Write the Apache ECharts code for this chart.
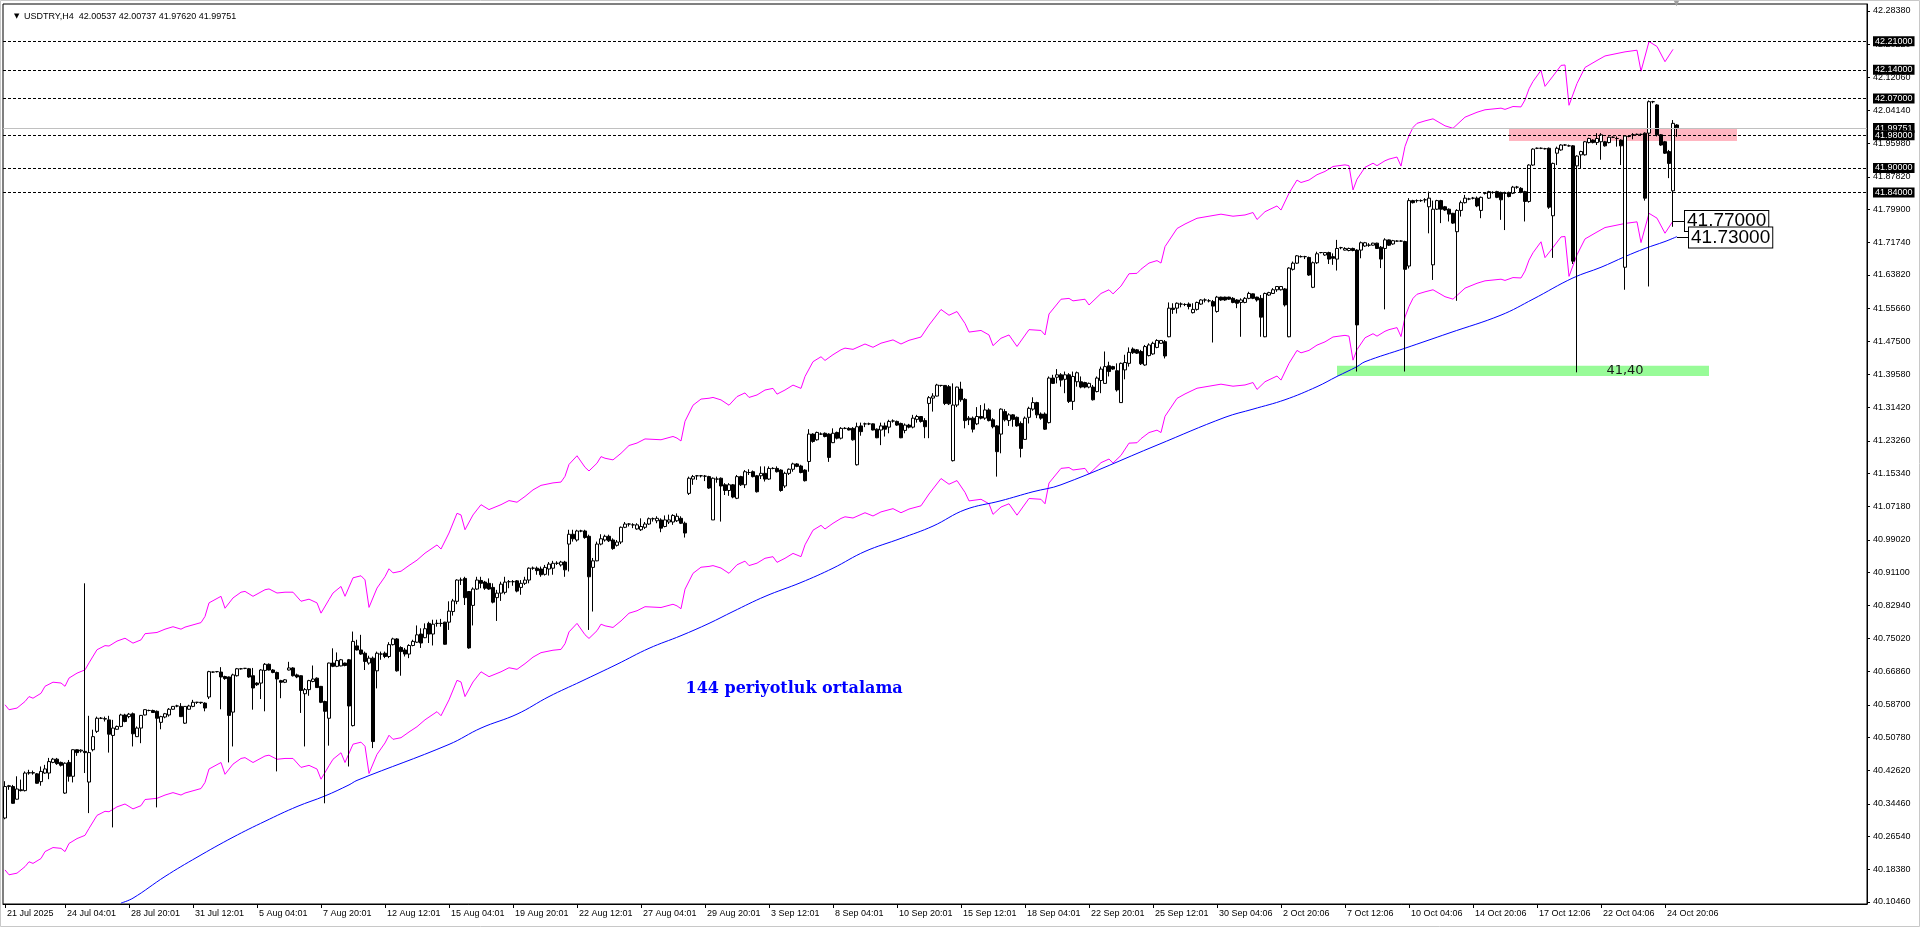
<!DOCTYPE html>
<html><head><meta charset="utf-8">
<script src="https://cdn.jsdelivr.net/npm/echarts@6/dist/echarts.min.js"></script>
<style>html,body{margin:0;padding:0;background:#fff}#c{width:1920px;height:927px}</style>
</head><body><div id="c"></div>
<script>
// ---------------- DATA ----------------
const symbolTitle = 'USDTRY,H4  42.00537 42.00737 41.97620 41.99751';
const xTickLabels = ['21 Jul 2025','24 Jul 04:01','28 Jul 20:01','31 Jul 12:01','5 Aug 04:01','7 Aug 20:01','12 Aug 12:01','15 Aug 04:01','19 Aug 20:01','22 Aug 12:01','27 Aug 04:01','29 Aug 20:01','3 Sep 12:01','8 Sep 04:01','10 Sep 20:01','15 Sep 12:01','18 Sep 04:01','22 Sep 20:01','25 Sep 12:01','30 Sep 04:06','2 Oct 20:06','7 Oct 12:06','10 Oct 04:06','14 Oct 20:06','17 Oct 12:06','22 Oct 04:06','24 Oct 20:06'];
const xTickBars = [0,15,31,47,63,79,95,111,127,143,159,175,191,207,223,239,255,271,287,303,319,335,351,367,383,399,415];
const yTickLabels = ['42.28380','42.20220','42.12060','42.04140','41.95980','41.87820','41.79900','41.71740','41.63820','41.55660','41.47500','41.39580','41.31420','41.23260','41.15340','41.07180','40.99020','40.91100','40.82940','40.75020','40.66860','40.58700','40.50780','40.42620','40.34460','40.26540','40.18380','40.10460'];

const opens = [
40.310,40.387,40.387,40.356,40.379,40.377,40.420,40.421,40.418,40.399,
40.420,40.420,40.446,40.454,40.446,40.371,40.446,40.412,40.477,40.474,
40.473,40.398,40.477,40.522,40.554,40.553,40.550,40.512,40.527,40.534,
40.562,40.558,40.565,40.509,40.530,40.562,40.573,40.573,40.571,40.544,
40.557,40.562,40.576,40.584,40.583,40.542,40.576,40.583,40.593,40.593,
40.591,40.606,40.667,40.668,40.667,40.656,40.655,40.569,40.658,40.675,
40.676,40.675,40.658,40.640,40.640,40.671,40.686,40.672,40.666,40.646,
40.642,40.672,40.677,40.660,40.658,40.614,40.624,40.644,40.652,40.632,
40.595,40.554,40.689,40.681,40.682,40.689,40.697,40.536,40.731,
40.721,40.713,40.689,40.701,40.670,40.711,40.713,40.705,40.734,40.748,40.727,
40.721,40.711,40.732,40.740,40.760,40.751,40.786,40.760,40.786,40.786,
40.789,40.789,40.815,40.840,40.892,40.896,40.864,40.830,40.870,40.891,
40.887,40.884,40.874,40.849,40.860,40.862,40.888,40.888,40.890,40.874,
40.884,40.892,40.921,40.921,40.919,40.906,40.919,40.921,40.933,40.929,
40.936,40.980,41.004,40.990,41.012,41.012,40.999,40.923,40.939,40.980,
40.990,40.999,40.990,40.977,40.985,41.021,41.029,41.027,41.017,41.015,
41.021,41.029,41.042,41.037,41.039,41.023,41.034,41.034,41.037,41.043,
41.031,41.104,41.139,41.147,41.147,41.146,41.145,
41.039,41.139,41.141,
41.125,41.111,41.125,41.092,41.145,41.125,41.155,41.157,41.147,41.147,
41.153,41.139,41.165,41.165,41.161,41.122,41.153,41.163,41.176,41.171,
41.161,41.182,41.249,41.235,41.249,41.251,41.249,41.228,41.253,41.239,
41.263,41.263,41.263,41.174,41.269,41.274,41.274,41.274,41.261,41.259,
41.269,41.266,41.281,41.280,41.275,41.258,41.271,41.266,41.285,41.292,
41.282,41.324,41.337,41.342,41.368,41.368,41.365,41.184,41.320,41.359,
41.334,41.288,41.288,41.274,41.292,41.288,41.308,41.284,41.269,41.249,
41.304,41.282,41.296,41.290,41.275,41.236,41.290,41.310,41.326,41.298,
41.298,41.277,41.386,41.388,
41.394,41.383,41.394,41.329,41.377,41.377,
41.375,41.364,41.364,41.353,41.380,41.373,41.416,41.414,41.404,41.326,
41.406,41.422,41.457,41.455,41.451,41.418,41.441,41.445,41.461,41.471,
41.475,41.487,41.557,41.557,41.567,41.566,41.567,41.546,41.554,41.567,
41.577,41.575,41.573,41.549,41.584,41.584,41.584,41.581,41.577,41.571,
41.571,41.581,41.592,41.584,41.581,41.487,41.589,41.593,41.602,41.602,
41.604,41.487,41.652,41.667,41.683,41.683,41.681,41.608,41.668,41.693,
41.687,41.693,41.683,41.677,41.705,41.699,41.698,41.703,41.699,41.699,
41.709,41.711,41.711,41.716,41.706,41.703,41.724,41.714,41.721,41.721,41.720,
41.660,41.820,41.820,41.820,41.822,41.805,41.663,41.799,41.820,
41.805,41.799,41.789,41.744,41.796,41.815,41.824,41.826,41.826,41.796,
41.838,41.826,41.840,41.842,41.840,41.838,41.840,41.838,41.853,41.850,
41.842,41.818,41.907,41.948,41.948,41.947,41.948,41.783,41.936,41.944,
41.956,41.954,41.954,41.905,41.932,41.932,41.962,41.968,41.962,41.964,
41.964,41.962,41.975,41.972,41.968,41.657,41.977,41.981,41.982,41.982,
41.985,41.985,42.062,42.054,41.981,41.964,41.940,41.844,42.005];

const closes = [
40.387,40.389,40.346,40.381,40.377,40.420,40.421,40.420,40.395,40.424,
40.430,40.448,40.454,40.443,40.439,40.444,40.412,40.477,40.470,40.476,
40.470,40.470,40.509,40.554,40.554,40.552,40.515,40.530,40.534,40.562,
40.546,40.564,40.516,40.530,40.561,40.575,40.573,40.568,40.554,40.558,
40.565,40.576,40.583,40.584,40.558,40.583,40.584,40.593,40.593,40.592,
40.579,40.668,40.667,40.668,40.655,40.651,40.561,40.660,40.675,40.675,
40.676,40.655,40.628,40.636,40.672,40.686,40.672,40.666,40.650,40.642,
40.648,40.677,40.658,40.655,40.622,40.624,40.646,40.650,40.629,40.593,
40.571,40.689,40.681,40.695,40.697,40.683,40.584,40.742,40.721,
40.711,40.693,40.701,40.497,40.713,40.711,40.705,40.734,40.748,40.670,40.717,
40.711,40.732,40.742,40.758,40.738,40.773,40.760,40.784,40.786,40.786,
40.735,40.816,40.841,40.892,40.892,40.849,40.726,40.870,40.892,40.884,
40.872,40.870,40.838,40.860,40.882,40.887,40.888,40.888,40.865,40.884,
40.892,40.921,40.921,40.915,40.905,40.923,40.931,40.933,40.933,40.936,
40.917,41.004,40.993,41.012,41.012,40.996,40.900,40.939,40.980,40.993,
40.999,40.988,40.969,40.985,41.021,41.029,41.029,41.027,41.027,41.023,
41.029,41.042,41.042,41.043,41.019,41.039,41.039,41.050,41.048,41.031,
41.007,41.141,41.145,41.147,41.147,41.146,41.117,
41.141,41.139,41.122,
41.111,41.125,41.095,41.145,41.125,41.157,41.155,41.145,41.108,41.153,
41.139,41.165,41.165,41.157,41.111,41.153,41.163,41.176,41.170,41.155,
41.135,41.249,41.231,41.253,41.249,41.243,41.192,41.251,41.239,41.263,
41.263,41.259,41.235,41.267,41.255,41.274,41.274,41.259,41.240,41.269,
41.261,41.280,41.281,41.271,41.240,41.271,41.266,41.288,41.292,41.280,
41.267,41.338,41.342,41.369,41.368,41.324,41.323,41.320,41.364,41.333,
41.282,41.284,41.261,41.292,41.288,41.308,41.282,41.267,41.206,41.310,
41.284,41.296,41.285,41.269,41.214,41.288,41.312,41.326,41.296,41.288,
41.261,41.386,41.373,41.394,
41.381,41.394,41.329,41.390,41.399,41.364,
41.364,41.373,41.333,41.386,41.408,41.414,41.402,41.408,41.357,41.422,
41.424,41.449,41.448,41.447,41.421,41.463,41.467,41.471,41.478,41.478,
41.440,41.557,41.554,41.569,41.567,41.566,41.561,41.554,41.571,41.577,
41.577,41.575,41.562,41.584,41.577,41.577,41.579,41.571,41.569,41.577,
41.581,41.593,41.581,41.577,41.535,41.593,41.595,41.602,41.610,41.610,
41.565,41.655,41.667,41.685,41.683,41.683,41.638,41.668,41.690,41.693,
41.693,41.677,41.679,41.703,41.705,41.703,41.703,41.698,41.516,41.717,
41.717,41.711,41.716,41.703,41.677,41.724,41.711,41.722,41.721,41.721,41.652,
41.820,41.815,41.820,41.820,41.822,41.826,41.799,41.820,41.799,
41.797,41.787,41.765,41.796,41.815,41.826,41.824,41.826,41.807,41.828,
41.838,41.842,41.840,41.828,41.822,41.838,41.830,41.853,41.853,41.840,
41.818,41.907,41.946,41.948,41.948,41.947,41.804,41.911,41.948,41.956,
41.956,41.954,41.672,41.929,41.940,41.964,41.972,41.962,41.972,41.981,
41.954,41.975,41.975,41.972,41.954,41.978,41.977,41.981,41.982,41.982,
41.826,42.062,42.062,41.981,41.956,41.936,41.911,42.009,41.998];

const lows = [
40.307,40.379,40.345,40.355,40.375,40.375,40.416,40.416,40.394,40.389,
40.418,40.405,40.444,40.440,40.436,40.369,40.399,40.397,40.462,40.470,
40.420,40.322,40.473,40.518,40.552,40.546,40.470,40.287,40.526,40.532,
40.544,40.554,40.485,40.508,40.493,40.561,40.571,40.567,40.336,40.527,
40.554,40.558,40.575,40.581,40.557,40.540,40.575,40.581,40.589,40.589,
40.571,40.601,40.665,40.666,40.576,40.648,40.446,40.485,40.656,40.673,
40.674,40.653,40.575,40.633,40.601,40.571,40.671,40.664,40.424,40.603,
40.640,40.671,40.656,40.652,40.567,40.485,40.609,40.642,40.628,40.591,
40.346,40.487,40.679,40.679,40.681,40.681,40.436,40.534,40.720,
40.709,40.672,40.685,40.481,40.627,40.697,40.701,40.701,40.732,40.668,40.658,
40.705,40.701,40.730,40.738,40.726,40.750,40.738,40.732,40.778,40.778,
40.734,40.770,40.805,40.833,40.880,40.831,40.724,40.781,40.868,40.872,
40.868,40.868,40.835,40.792,40.841,40.857,40.872,40.878,40.862,40.856,
40.880,40.884,40.917,40.905,40.900,40.903,40.903,40.905,40.929,40.925,
40.900,40.913,40.986,40.986,41.009,40.993,40.770,40.815,40.938,40.977,
40.986,40.985,40.966,40.974,40.980,41.019,41.023,41.019,41.015,41.012,
41.017,41.027,41.035,41.031,41.009,41.021,41.029,41.027,41.034,41.029,
40.996,41.100,41.125,41.137,41.143,41.134,41.115,
41.039,41.130,41.035,
41.100,41.098,41.092,41.090,41.122,41.117,41.149,41.143,41.106,41.139,
41.133,41.137,41.163,41.155,41.108,41.117,41.149,41.157,41.168,41.153,
41.133,41.157,41.228,41.233,41.247,41.241,41.181,41.227,41.236,41.236,
41.261,41.258,41.233,41.172,41.245,41.266,41.271,41.258,41.239,41.222,
41.243,41.251,41.277,41.269,41.239,41.251,41.263,41.263,41.277,41.277,
41.239,41.239,41.304,41.341,41.365,41.320,41.320,41.182,41.315,41.328,
41.263,41.271,41.253,41.271,41.285,41.284,41.280,41.263,41.145,41.202,
41.280,41.269,41.267,41.267,41.192,41.235,41.275,41.306,41.288,41.284,
41.259,41.275,41.372,41.373,
41.365,41.349,41.325,41.308,41.365,41.361,
41.361,41.361,41.331,41.351,41.349,41.372,41.390,41.406,41.353,41.325,
41.383,41.414,41.445,41.445,41.418,41.416,41.439,41.443,41.459,41.470,
41.434,41.486,41.543,41.544,41.559,41.562,41.554,41.544,41.551,41.565,
41.571,41.571,41.473,41.546,41.575,41.575,41.577,41.569,41.557,41.487,
41.569,41.579,41.579,41.573,41.487,41.486,41.587,41.592,41.597,41.600,
41.561,41.486,41.649,41.665,41.681,41.677,41.636,41.606,41.665,41.691,
41.685,41.665,41.663,41.649,41.701,41.698,41.696,41.696,41.402,41.679,
41.707,41.707,41.710,41.702,41.655,41.554,41.709,41.712,41.720,41.720,41.402,
41.654,41.813,41.815,41.817,41.815,41.740,41.626,41.797,41.765,
41.795,41.769,41.763,41.575,41.781,41.813,41.821,41.823,41.804,41.777,
41.835,41.824,41.837,41.826,41.773,41.748,41.828,41.836,41.849,41.838,
41.769,41.815,41.905,41.946,41.946,41.945,41.800,41.680,41.907,41.942,
41.954,41.952,41.665,41.400,41.899,41.930,41.960,41.960,41.956,41.920,
41.952,41.960,41.973,41.952,41.907,41.602,41.975,41.970,41.980,41.980,
41.820,41.610,42.058,41.977,41.954,41.934,41.875,41.756,41.976];

const highs = [
40.400,40.391,40.391,40.412,40.404,40.424,40.428,40.426,40.420,40.436,
40.440,40.457,40.457,40.457,40.448,40.446,40.452,40.478,40.478,40.478,
40.884,40.560,40.526,40.558,40.557,40.558,40.560,40.550,40.536,40.565,
40.565,40.567,40.568,40.534,40.562,40.576,40.575,40.575,40.573,40.560,
40.567,40.579,40.584,40.587,40.591,40.584,40.587,40.599,40.594,40.594,
40.593,40.670,40.668,40.669,40.679,40.658,40.656,40.663,40.677,40.677,
40.677,40.677,40.677,40.642,40.674,40.689,40.688,40.674,40.668,40.648,
40.650,40.692,40.679,40.663,40.659,40.628,40.648,40.683,40.654,40.633,
40.597,40.690,40.725,40.715,40.699,40.690,40.699,40.766,40.746,
40.758,40.717,40.707,40.705,40.717,40.717,40.717,40.740,40.751,40.750,40.730,
40.726,40.735,40.746,40.781,40.774,40.786,40.790,40.795,40.795,40.797,
40.790,40.840,40.846,40.894,40.898,40.900,40.865,40.874,40.900,40.900,
40.890,40.896,40.884,40.868,40.888,40.900,40.892,40.892,40.892,40.892,
40.900,40.923,40.925,40.925,40.925,40.929,40.936,40.939,40.938,40.939,
40.939,41.015,41.015,41.015,41.015,41.015,41.003,40.946,40.986,41.004,
41.003,41.003,40.994,40.990,41.023,41.034,41.031,41.031,41.031,41.043,
41.034,41.045,41.045,41.048,41.043,41.050,41.052,41.053,41.055,41.048,
41.035,41.145,41.149,41.149,41.149,41.149,41.147,
41.143,41.145,41.143,
41.129,41.129,41.127,41.149,41.147,41.161,41.163,41.160,41.149,41.170,
41.170,41.170,41.168,41.170,41.163,41.157,41.165,41.179,41.178,41.174,
41.163,41.261,41.251,41.255,41.253,41.253,41.251,41.263,41.255,41.266,
41.266,41.266,41.266,41.277,41.277,41.277,41.277,41.275,41.263,41.277,
41.277,41.284,41.285,41.282,41.277,41.275,41.274,41.296,41.296,41.293,
41.288,41.342,41.349,41.372,41.369,41.369,41.369,41.373,41.365,41.377,
41.337,41.293,41.292,41.315,41.320,41.324,41.312,41.288,41.271,41.312,
41.310,41.300,41.298,41.292,41.280,41.292,41.316,41.339,41.328,41.302,
41.302,41.390,41.394,41.408,
41.398,41.402,41.398,41.402,41.402,41.390,
41.377,41.375,41.369,41.390,41.414,41.451,41.426,41.416,41.422,41.424,
41.443,41.461,41.461,41.457,41.455,41.467,41.471,41.475,41.481,41.479,
41.479,41.571,41.569,41.571,41.571,41.569,41.571,41.569,41.573,41.579,
41.581,41.579,41.577,41.587,41.585,41.585,41.585,41.584,41.579,41.581,
41.584,41.597,41.593,41.585,41.589,41.595,41.597,41.606,41.611,41.611,
41.606,41.657,41.671,41.687,41.686,41.685,41.683,41.671,41.695,41.694,
41.694,41.695,41.691,41.724,41.707,41.706,41.705,41.705,41.701,41.720,
41.719,41.716,41.717,41.717,41.709,41.728,41.725,41.724,41.723,41.723,41.722,
41.826,41.822,41.823,41.823,41.826,41.842,41.820,41.822,41.822,
41.807,41.801,41.790,41.799,41.820,41.834,41.827,41.829,41.830,41.830,
41.840,41.844,41.843,41.844,41.842,41.842,41.842,41.856,41.856,41.853,
41.844,41.909,41.948,41.950,41.950,41.949,41.950,41.913,41.952,41.958,
41.958,41.957,41.956,41.931,41.942,41.966,41.974,41.970,41.985,41.985,
41.966,41.977,41.977,41.977,41.970,41.980,41.980,41.985,41.984,41.984,
41.987,42.065,42.064,42.056,41.983,41.966,41.944,42.017,42.007];

// 144-period moving average: [bar, value]
const ma144 = [[29,40.102],[32,40.114],[40,40.167],[48,40.214],[57,40.263],[65,40.302],[73,40.338],[80,40.364],[86,40.391],[88,40.402],[111,40.490],[119,40.530],[128,40.564],[136,40.607],[144,40.644],[153,40.686],[161,40.725],[169,40.756],[176,40.786],[182,40.815],[190,40.852],[199,40.886],[207,40.921],[215,40.962],[224,40.994],[232,41.024],[240,41.064],[249,41.086],[257,41.108],[264,41.125],[288,41.222],[305,41.290],[312,41.310],[320,41.333],[328,41.365],[333,41.390],[338,41.414],[340,41.426],[350,41.459],[361,41.496],[374,41.540],[382,41.579],[392,41.631],[399,41.657],[405,41.683],[410,41.703],[415,41.720],[418,41.732]];

// Envelope centre line [bar, value]; bands drawn at +/- envDeviation
const envMid = [[0,40.385],[1,40.373],[3,40.377],[5,40.393],[6,40.405],[7,40.401],[9,40.413],[10,40.430],[12,40.440],[14,40.438],[15,40.430],[16,40.450],[18,40.462],[20,40.470],[21,40.487],[23,40.519],[25,40.529],[26,40.528],[28,40.540],[30,40.547],[32,40.535],[34,40.543],[35,40.558],[38,40.561],[40,40.569],[42,40.575],[44,40.569],[45,40.574],[49,40.585],[50,40.600],[51,40.633],[54,40.649],[55,40.620],[57,40.645],[59,40.659],[60,40.661],[62,40.649],[65,40.665],[66,40.667],[68,40.657],[70,40.659],[72,40.659],[74,40.637],[76,40.642],[78,40.633],[79,40.608],[81,40.641],[82,40.657],[84,40.673],[85,40.649],[87,40.694],[89,40.699],[90,40.689],[91,40.622],[93,40.669],[95,40.697],[96,40.716],[97,40.706],[99,40.710],[101,40.724],[103,40.737],[105,40.754],[108,40.774],[109,40.764],[111,40.803],[113,40.851],[114,40.847],[115,40.811],[117,40.847],[119,40.872],[121,40.860],[124,40.872],[126,40.882],[128,40.878],[130,40.892],[132,40.908],[134,40.919],[137,40.925],[139,40.927],[140,40.941],[141,40.970],[143,40.991],[145,40.963],[146,40.954],[148,40.973],[149,40.989],[150,40.985],[152,40.981],[154,40.997],[156,41.016],[158,41.022],[160,41.032],[164,41.030],[167,41.038],[168,41.034],[169,41.027],[170,41.075],[172,41.114],[174,41.129],[176,41.131],[177,41.133],[179,41.127],[181,41.114],[183,41.135],[185,41.144],[186,41.133],[188,41.139],[190,41.151],[192,41.155],[193,41.141],[195,41.151],[197,41.163],[199,41.155],[200,41.184],[202,41.220],[204,41.232],[205,41.223],[207,41.237],[209,41.249],[210,41.253],[212,41.250],[215,41.263],[217,41.255],[219,41.265],[222,41.273],[224,41.263],[226,41.272],[229,41.280],[231,41.309],[234,41.347],[236,41.333],[238,41.342],[240,41.313],[241,41.292],[244,41.296],[246,41.285],[247,41.259],[249,41.277],[251,41.285],[253,41.257],[256,41.298],[259,41.296],[260,41.285],[261,41.336],[264,41.372],[266,41.374],[267,41.368],[270,41.372],[271,41.358],[274,41.386],[276,41.395],[277,41.385],[279,41.404],[281,41.434],[283,41.435],[284,41.445],[286,41.460],[288,41.466],[289,41.460],[290,41.500],[293,41.544],[295,41.555],[298,41.569],[301,41.574],[304,41.579],[307,41.574],[310,41.577],[312,41.583],[313,41.566],[315,41.585],[318,41.599],[319,41.589],[321,41.630],[323,41.662],[324,41.656],[326,41.662],[328,41.675],[330,41.683],[332,41.695],[335,41.699],[336,41.697],[337,41.638],[338,41.664],[340,41.693],[342,41.703],[343,41.697],[345,41.709],[346,41.713],[348,41.718],[349,41.696],[350,41.744],[351,41.770],[352,41.790],[353,41.800],[355,41.806],[357,41.811],[360,41.794],[362,41.788],[364,41.806],[365,41.815],[368,41.827],[370,41.833],[372,41.835],[374,41.837],[375,41.834],[377,41.841],[379,41.840],[380,41.857],[381,41.884],[382,41.902],[384,41.929],[385,41.890],[387,41.915],[389,41.941],[390,41.942],[391,41.844],[393,41.897],[395,41.936],[398,41.953],[400,41.964],[403,41.970],[405,41.974],[408,41.978],[409,41.927],[411,41.999],[413,41.987],[415,41.950],[417,41.980]];
const envDeviation = 0.005;

const levelPrices = [42.21, 42.14, 42.07, 41.98, 41.90, 41.84];
const lastPrice = 41.99751;
const resistanceZone = {fromBar: 376, toBar: 433, low: 41.966, high: 41.995};
const supportZone = {fromBar: 333, toBar: 426, low: 41.391, high: 41.416, text: '41,40', textBar: 405, textPrice: 41.404};
const maNote = {text: '144 periyotluk ortalama', bar: 170, price: 40.626};
const priceTags = [{price: 41.77, fromBar: 417, toBar: 420}, {price: 41.73, fromBar: 418, toBar: 421}];

// ---------------- CHART ----------------
const nSlots = 466;
const cats = Array.from({length: nSlots}, (_, i) => String(i));
const labelByBar = {};
xTickBars.forEach((b, k) => { labelByBar[b] = xTickLabels[k]; });
const candles = opens.map((o, i) => [o, closes[i], lows[i], highs[i]]);
const upper = envMid.map(p => [p[0], p[1] * (1 + envDeviation)]);
const lower = envMid.map(p => [p[0], p[1] * (1 - envDeviation)]);
const FONT = 'Liberation Sans, Arial, DejaVu Sans, sans-serif';

const chart = echarts.init(document.getElementById('c'), null, {renderer: 'canvas'});
chart.setOption({
  animation: false,
  backgroundColor: '#fff',
  title: [
    {text: '\u25BC', left: 9, top: 8, textStyle: {fontSize: 7, color: '#000', fontWeight: 'normal', fontFamily: 'DejaVu Sans'}},
    {text: symbolTitle, left: 19, top: 7, textStyle: {fontSize: 9, color: '#000', fontWeight: 'normal', fontFamily: FONT}}
  ],
  graphic: [
    {type: 'rect', shape: {x: 0.5, y: 0.5, width: 1919, height: 926}, style: {fill: null, stroke: '#c8c8c8', lineWidth: 1}, silent: true},
    {type: 'text', left: 1672, top: -1, style: {text: '\u25BC', fontSize: 9, fill: '#a0a0a0'}}
  ],
  grid: {left: 3, right: 53, top: 4, bottom: 23, show: true, borderColor: '#000', borderWidth: 1, backgroundColor: '#fff'},
  xAxis: {
    type: 'category', data: cats, boundaryGap: true,
    axisLine: {lineStyle: {color: '#000', width: 1}},
    axisTick: {show: true, alignWithLabel: true, length: 4, interval: (i) => (i in labelByBar), lineStyle: {color: '#000'}},
    axisLabel: {interval: (i) => (i in labelByBar), formatter: (v, i) => labelByBar[i] || '', align: 'left', margin: 5, fontSize: 9, fontFamily: FONT, color: '#000', padding: [0, 0, 0, 2]},
    splitLine: {show: false}
  },
  yAxis: {
    type: 'value', position: 'right', min: 40.0997, max: 42.3009,
    axisLine: {show: true, lineStyle: {color: '#000'}},
    axisTick: {show: true, length: 3, customValues: yTickLabels.map(Number), lineStyle: {color: '#000'}},
    axisLabel: {customValues: yTickLabels.map(Number), formatter: (v) => v.toFixed(5), fontSize: 9, margin: 6, color: '#000', fontFamily: FONT},
    splitLine: {show: false}
  },
  series: [
    {
      type: 'line', data: [], z: 1, silent: true,
      markArea: {
        silent: true,
        data: [
          [{xAxis: resistanceZone.fromBar, yAxis: resistanceZone.high, itemStyle: {color: '#ffb6c1'}}, {xAxis: resistanceZone.toBar, yAxis: resistanceZone.low}],
          [{xAxis: supportZone.fromBar, yAxis: supportZone.high, itemStyle: {color: '#98fb98'}}, {xAxis: supportZone.toBar, yAxis: supportZone.low}]
        ]
      }
    },
    {type: 'line', name: 'EnvUp', data: upper, symbol: 'none', lineStyle: {color: '#ff00ff', width: 1}, z: 2, silent: true},
    {type: 'line', name: 'EnvDn', data: lower, symbol: 'none', lineStyle: {color: '#ff00ff', width: 1}, z: 2, silent: true},
    {type: 'line', name: 'MA144', data: ma144, symbol: 'none', smooth: 0.4, lineStyle: {color: '#0000ff', width: 1}, z: 2, silent: true},
    {
      type: 'candlestick', name: 'USDTRY', data: candles, barWidth: 3, z: 3,
      itemStyle: {color: '#ffffff', color0: '#000000', borderColor: '#000000', borderColor0: '#000000', borderColorDoji: '#000000', borderWidth: 1}
    },
    {
      type: 'line', data: [], z: 5, silent: true,
      markLine: {
        silent: true, symbol: ['none', 'none'], precision: 5,
        lineStyle: {color: '#000', type: [3, 2], width: 1},
        label: {show: true, position: 'end', distance: 6, backgroundColor: '#000', color: '#fff', fontSize: 9, fontFamily: FONT, padding: [1, 2, 0, 2], formatter: (p) => Number(p.value).toFixed(5)},
        data: [{yAxis: lastPrice, lineStyle: {color: '#c0c0c0', type: 'solid'}}].concat(levelPrices.map(v => ({yAxis: v})))
      }
    },
    {
      type: 'line', data: [], z: 6, silent: true,
      markLine: {
        silent: true, symbol: ['none', 'none'], precision: 5,
        lineStyle: {color: '#000', type: 'solid', width: 1},
        label: {show: true, position: 'end', distance: 0, backgroundColor: '#fff', borderColor: '#000', borderWidth: 1, color: '#000', fontSize: 19, fontFamily: FONT, padding: [1, 2, 0, 2], formatter: (p) => Number(p.data.coord[1]).toFixed(5)},
        data: priceTags.map(t => [{coord: [t.fromBar, t.price]}, {coord: [t.toBar, t.price]}])
      },
      markPoint: {
        silent: true, symbol: 'rect', symbolSize: 1, itemStyle: {color: 'rgba(0,0,0,0)'},
        data: [
          {coord: [supportZone.textBar, supportZone.textPrice], label: {show: true, position: 'inside', formatter: supportZone.text, fontSize: 13, color: '#1a1a1a', fontFamily: 'DejaVu Sans'}},
          {coord: [maNote.bar, maNote.price], label: {show: true, position: 'right', distance: 0, formatter: maNote.text, fontSize: 16, fontWeight: 'bold', color: '#0000ff', fontFamily: 'DejaVu Serif'}}
        ]
      }
    }
  ]
});
</script></body></html>
